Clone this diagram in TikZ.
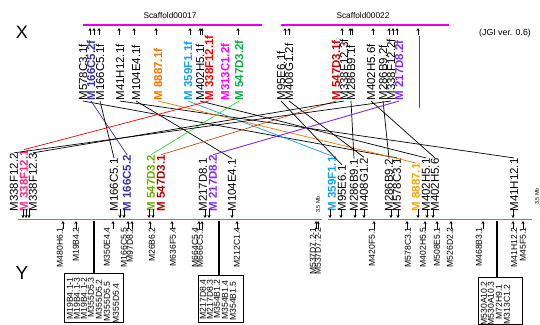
\documentclass[tikz,border=0pt]{standalone}
\usepackage{fontspec}
\setmainfont{Liberation Sans}
\usetikzlibrary{arrows.meta}
\definecolor{cnavy}{RGB}{51,51,170}
\definecolor{corange}{RGB}{255,115,0}
\definecolor{corangeL}{RGB}{255,165,0}
\definecolor{clblue}{RGB}{20,160,230}
\definecolor{cred}{RGB}{255,0,0}
\definecolor{cpink}{RGB}{255,40,130}
\definecolor{cmag}{RGB}{255,0,255}
\definecolor{cgreen}{RGB}{0,175,70}
\definecolor{colive}{RGB}{110,170,0}
\definecolor{cgreenline}{RGB}{60,210,60}
\definecolor{cdred}{RGB}{205,0,0}
\definecolor{cdredL}{RGB}{170,0,0}
\definecolor{cbrown}{RGB}{185,80,30}
\definecolor{cpurple}{RGB}{130,40,255}
\definecolor{cchrom}{RGB}{90,130,240}
\definecolor{cscaf}{RGB}{230,0,230}
\tikzset{
  tlab/.style={rotate=90,anchor=west,inner sep=0.3pt,font=\fontsize{11.5}{12}\selectfont},
  hl/.style={font=\fontsize{11.5}{12}\selectfont\bfseries},
  blab/.style={rotate=90,anchor=east,inner sep=0.3pt,font=\fontsize{8.6}{9}\selectfont},
  upar/.style={-{Stealth[length=3pt,width=3pt]},line width=0.8pt},
  conn/.style={line width=0.7pt},
  boxnode/.style={draw,line width=1pt,anchor=north west,inner sep=0pt},
  mb/.style={rotate=90,anchor=west,inner sep=0pt,font=\fontsize{5.5}{6}\selectfont},
}
\begin{document}
\begin{tikzpicture}[x=1pt,y=-1pt]
\useasboundingbox (0,0) rectangle (540,324);
% titles
\node[font=\fontsize{18}{18}\selectfont] (X) at (22,32.5) {X};
\node[font=\fontsize{19}{19}\selectfont] (Y) at (22,273) {Y};
\node[font=\fontsize{8.3}{9}\selectfont] (s17) at (170,16) {Scaffold00017};
\node[font=\fontsize{8.3}{9}\selectfont] (s22) at (363,16) {Scaffold00022};
\node[font=\fontsize{8.8}{9}\selectfont] (jgi) at (505,33) {(JGI ver. 0.6)};
% scaffold lines
\draw[cscaf,line width=1.3pt] (83,25) -- (262,25);
\draw[cscaf,line width=1.3pt] (281,25) -- (449,25);
\draw[cred,line width=1.4pt] (419.5,36) -- (419.5,108);
% top markers
\foreach \x in {90,94,99,119,134,156,190,200,202,238,285,289,342,350,352,373,389,393,397,418}
  \draw[upar] (\x,35) -- (\x,28);
% top labels
\node[tlab] (t578) at (83,101) {M578C3.1f};
\node[tlab,hl,text=cnavy] (t1662) at (91,101) {M 166C5.2f};
\node[tlab] (t1661) at (100,101) {M166C5.1f};
\node[tlab] (t41) at (120,101) {M41H12.1f};
\node[tlab] (t104) at (136,101) {M104E4.1f};
\node[tlab,hl,text=corange] (t888) at (158,101) {M 8887.1f};
\node[tlab,hl,text=clblue] (t359) at (188,101) {M 359F1.1f};
\node[tlab] (t4021) at (200,101) {M402H5.1f};
\node[tlab,hl,text=cred] (t3381) at (209,101) {M 338F12.1f};
\node[tlab,hl,text=cmag] (t313) at (225,101) {M313C1.2f};
\node[tlab,hl,text=cgreen] (t5472) at (239,101) {M 547D3.2f};
\node[tlab] (t95) at (281,101) {M95E6.1f};
\node[tlab] (t408) at (289,101) {M408G1.2f};
\node[tlab,hl,text=cdred] (t5471) at (336,101) {M 547D3.1f};
\node[tlab] (t3383) at (344,101) {M338F12.3f};
\node[tlab] (t2861) at (351,101) {M286B9.1f};
\node[tlab] (t4026) at (371,101) {M402H5.6f};
\node[tlab] (t2862) at (383,101) {M286B9.2f};
\node[tlab] (t3382) at (391,101) {M338F12.2f};
\node[tlab,hl,text=cpurple] (t2172) at (399,101) {M 217D8.2f};
% chromosome Y line
\draw[cchrom,line width=1.4pt] (18,219.5) -- (322,219.5);
\draw[cchrom,line width=1.4pt] (328,219.5) -- (532,219.5);
\node[mb] (mb1) at (318,213) {3.5 Mb};
\node[mb] (mb2) at (537,205) {3.5 Mb};
% lower labels
\node[tlab] (l3382) at (14,212) {M338F12.2};
\node[tlab,hl,text=cpink] (l3381) at (24,212) {M 338F12.1};
\node[tlab] (l3383) at (33,212) {M338F12.3};
\node[tlab] (l1661) at (114,212) {M166C5.1};
\node[tlab,hl,text=cnavy] (l1662) at (127,212) {M 166C5.2};
\node[tlab,hl,text=colive] (l5472) at (151,212) {M 547D3.2};
\node[tlab,hl,text=cdredL] (l5471) at (161,212) {M 547D3.1};
\node[tlab] (l2171) at (203,212) {M217D8.1};
\node[tlab,hl,text=cpurple] (l2172) at (213,212) {M 217D8.2};
\node[tlab] (l104) at (232,212) {M104E4.1};
\node[tlab,hl,text=clblue] (l359) at (332,212) {M 359F1.1};
\node[tlab] (l95) at (342,212) {M95E6.1};
\node[tlab] (l2861) at (354,212) {M286B9.1};
\node[tlab] (l408) at (364,212) {M408G1.2};
\node[tlab] (l2862) at (389,212) {M286B9.2};
\node[tlab] (l578) at (397,212) {M578C3.1};
\node[tlab,hl,text=corangeL] (l888) at (416,212) {M 8887.1};
\node[tlab] (l4021) at (426,212) {M402H5.1};
\node[tlab] (l4026) at (435,212) {M402H5.6};
\node[tlab] (l41) at (514,212) {M41H12.1};
% markers above Y line
\foreach \x in {23,26,29,120,124,149,153,205,209,232,330,341,355,364,391,398,418,427,433,513}
  \draw[-{Stealth[length=3pt,width=3pt]},line width=0.8pt] (\x,209) -- (\x,218);
% markers below Y line
\foreach \x in {63,76,113,128,132,150,172,199,202,237,316,318,374,407,425,437,451,483,513,523}
  \draw[upar] (\x,229) -- (\x,221);
% comparative connectors
\draw[conn] (t578.west) -- (l578.east);
\draw[conn,cnavy] (t1662.west) -- (l1662.east);
\draw[conn] (t1661.west) -- (l1661.east);
\draw[conn] (t41.west) -- (l41.east);
\draw[conn] (t104.west) -- (l104.east);
\draw[conn,corange] (t888.west) -- (l888.east);
\draw[conn,clblue] (t359.west) -- (l359.east);
\draw[conn] (t4021.west) -- (l4021.east);
\draw[conn,cred] (t3381.west) -- (l3381.east);
\draw[conn,cgreenline] (t5472.west) -- (l5472.east);
\draw[conn] (t95.west) -- (l95.east);
\draw[conn] (t408.west) -- (l408.east);
\draw[conn,cbrown] (t5471.west) -- (l5471.east);
\draw[conn] (t3383.west) -- (l3383.east);
\draw[conn] (t2861.west) -- (l2861.east);
\draw[conn] (t4026.west) -- (l4026.east);
\draw[conn] (t2862.west) -- (l2862.east);
\draw[conn] (t3382.west) -- (l3382.east);
\draw[conn,cpurple,line width=0.9pt] (t2172.west) -- (l2172.east);
% bottom labels
\node[blab] (b480) at (60,227) {M480H6.1};
\node[blab] (b19) at (76,227) {M19B4.2};
\node[blab] (b350) at (107,227) {M350E4.4};
\node[blab] (b1665) at (124,227) {M166C5.5};
\node[blab] (b97) at (130,227) {M97D8.2};
\node[blab] (b26) at (152,227) {M26B6.2};
\node[blab] (b636) at (173,227) {M636F5.4};
\node[blab] (b664) at (195,227) {M664C5.4};
\node[blab] (b666) at (200,227) {M666C5.1};
\node[blab] (b212) at (237,227) {M212C1.4};
\node[blab] (b5371) at (313,227) {M537D7.2-1};
\node[blab] (b5372) at (318,227) {M537D7.2-2};
\node[blab] (b420) at (372,227) {M420F5.1};
\node[blab] (b578) at (408,227) {M578C3.1};
\node[blab] (b402) at (423,227) {M402H5.5};
\node[blab] (b508) at (437,227) {M508E5.1};
\node[blab] (b526) at (450,227) {M526D2.2};
\node[blab] (b468) at (479,227) {M468B3.1};
\node[blab] (b412) at (514,227) {M41H12.2};
\node[blab] (b45) at (523,227) {M45F5.1};
% boxes
\node[boxnode,minimum width=59pt,minimum height=49pt] (box1) at (64,273) {};
\node[boxnode,minimum width=45pt,minimum height=47pt] (box2) at (198,275) {};
\node[boxnode,minimum width=44pt,minimum height=47pt] (box3) at (478,277) {};
\coordinate (c1) at (94,221);
\coordinate (c2) at (219,221);
\coordinate (c3) at (497,221);
\draw[line width=1.1pt] (c1) -- (c1 |- box1.north);
\draw[line width=1.1pt] (c2) -- (c2 |- box2.north);
\draw[line width=1.1pt] (c3) -- (c3 |- box3.north);
% box contents
\node[blab] (k1) at (70,277) {M19B4.1-1};
\node[blab] (k2) at (77,277) {M19B4.1-3};
\node[blab] (k3) at (84,277) {M19B4.1-2};
\node[blab] (k4) at (91,277) {M355D5.3};
\node[blab] (k5) at (99,279) {M355D5.2};
\node[blab] (k6) at (107,281) {M355D5.5};
\node[blab] (k7) at (116,283) {M355D5.4};
\node[blab] (m1) at (203,279) {M217D8.4};
\node[blab] (m2) at (210,279) {M217D8.3};
\node[blab] (m3) at (217,279) {M354B1.2};
\node[blab] (m4) at (225,280) {M354B1.4};
\node[blab] (m5) at (233,281) {M354B1.5};
\node[blab] (n1) at (484,281) {M530A10.2};
\node[blab] (n2) at (491,281) {M530A10.3};
\node[blab] (n3) at (499,284) {M72H9.1};
\node[blab] (n4) at (507,284) {M313C1.2};
\end{tikzpicture}
\end{document}
